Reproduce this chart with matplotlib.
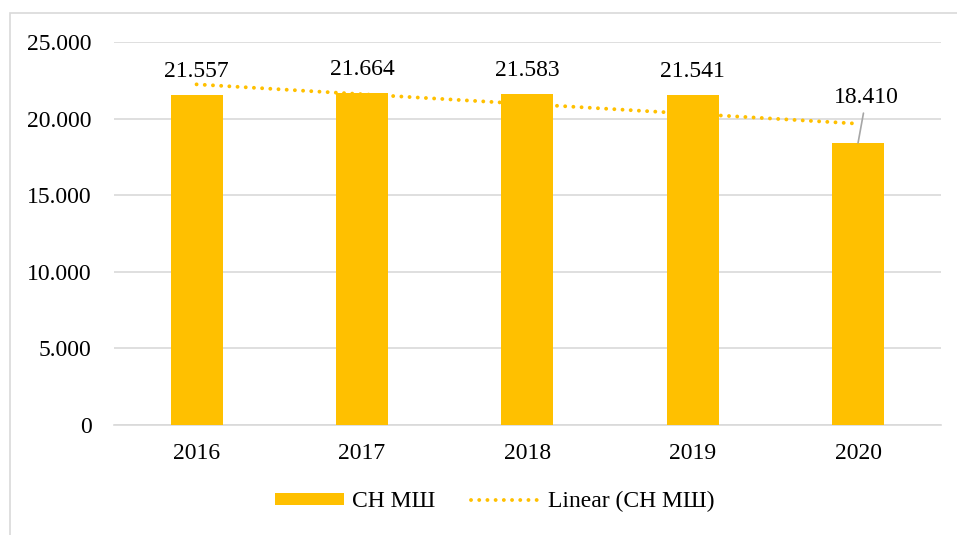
import matplotlib.pyplot as plt
import numpy as np
from matplotlib.lines import Line2D
from matplotlib.patches import Patch, Rectangle
from matplotlib.ticker import FuncFormatter, MultipleLocator

years = ["2016", "2017", "2018", "2019", "2020"]
values = [21557, 21664, 21583, 21541, 18410]
series_name = "СН МШ"
trend_name = "Linear (СН МШ)"

GOLD = "#FFC000"
GRID = "#D9D9D9"
FS = 17

plt.rcParams["font.family"] = ["Liberation Serif", "DejaVu Serif"]
plt.rcParams["font.size"] = FS


def dot_fmt(v, _pos=None):
    return f"{v:,.0f}".replace(",", ".")


fig = plt.figure(figsize=(9.57, 5.35), dpi=100)
ax = fig.add_axes([0.119, 0.2056, 0.864, 0.7159])

x = np.arange(len(years))
ax.bar(x, values, width=0.315, color=GOLD, zorder=3)

# least squares trend, as Excel's linear trendline
k, b = np.polyfit(x, values, 1)
trend = k * x + b
dots = (0, (0.01, 2.1))
ax.plot(x, trend, color=GOLD, lw=2.8, linestyle=dots,
        dash_capstyle="round", zorder=4)

for i, v in enumerate(values):
    if i < len(values) - 1:
        ax.annotate(dot_fmt(v), (x[i], v), xytext=(0, 17), textcoords="offset points",
                    ha="center", va="center", fontsize=FS, zorder=5)
    else:
        ax.annotate(dot_fmt(v), (x[i], v), xytext=(6, 33), textcoords="offset points",
                    ha="center", va="center", fontsize=FS, zorder=5,
                    arrowprops=dict(arrowstyle="-", color="#A6A6A6", lw=1.2,
                                    shrinkA=2, shrinkB=0))

ax.set_ylim(0, 25000)
ax.set_xlim(-0.5, len(years) - 0.5)
ax.yaxis.set_major_locator(MultipleLocator(5000))
ax.yaxis.set_major_formatter(FuncFormatter(dot_fmt))
ax.set_xticks(x)
ax.set_xticklabels(years)
ax.grid(axis="y", color=GRID, lw=1.2, zorder=0)
ax.tick_params(length=0, labelsize=FS)
ax.tick_params(axis="y", pad=16)
ax.tick_params(axis="x", pad=13)
for s in ["left", "right", "top"]:
    ax.spines[s].set_visible(False)
ax.spines["bottom"].set_color(GRID)
ax.spines["bottom"].set_linewidth(1.2)

# chart area border (left and top edges visible)
fig.patches.append(Rectangle((10 / 957, -0.1), 1.2, 1 - 12.5 / 535 + 0.1,
                             transform=fig.transFigure, fill=False,
                             edgecolor=GRID, lw=1.2))

handles = [
    Patch(facecolor=GOLD, edgecolor="none"),
    Line2D([0], [0], color=GOLD, lw=2.8, linestyle=dots, dash_capstyle="round"),
]
fig.legend(handles, [series_name, trend_name], loc="center",
           bbox_to_anchor=(0.517, 0.062), ncol=2, frameon=False, fontsize=FS,
           handlelength=2.9, handleheight=0.42, handletextpad=0.35,
           columnspacing=1.5)

fig.savefig("out.png", dpi=100)
